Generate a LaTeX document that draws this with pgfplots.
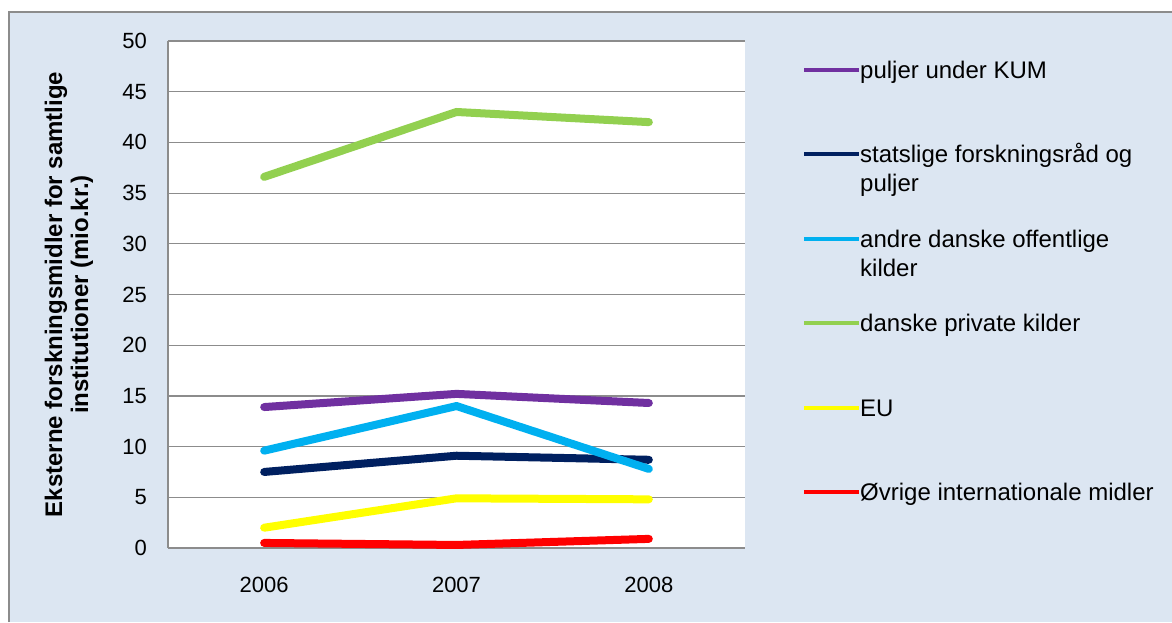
\documentclass[border=0pt]{standalone}
\usepackage{pgfplots}
\pgfplotsset{compat=1.18}
\usepackage{fontspec}
\setmainfont{Liberation Sans}
\definecolor{bgblue}{HTML}{DCE6F2}
\definecolor{framegray}{HTML}{8C8C8C}
\definecolor{gridgray}{HTML}{8C8C8C}
\definecolor{kum}{HTML}{7030A0}
\definecolor{stat}{HTML}{002060}
\definecolor{offentlig}{HTML}{00B0F0}
\definecolor{privat}{HTML}{92D050}
\definecolor{eu}{HTML}{FFFF00}
\definecolor{intl}{HTML}{FF0000}

\begin{document}
\begin{tikzpicture}
\useasboundingbox (0,0) rectangle (586pt,311pt);
\fill[white] (0,0) rectangle (586pt,311pt);
\fill[bgblue] (4.5pt,0) rectangle (586pt,305pt);
\draw[framegray, line width=1pt] (4.5pt,0) -- (4.5pt,305pt) -- (586pt,305pt);
\begin{axis}[
    at={(84pt,37pt)}, anchor=south west,
    scale only axis,
    width=288.5pt, height=253.5pt,
    xmin=-0.5, xmax=2.5,
    ymin=0, ymax=50,
    xtick={0,1,2},
    xticklabels={2006,2007,2008},
    ytick={0,5,...,50},
    ymajorgrids,
    grid style={gridgray, line width=0.6pt},
    axis x line*=bottom,
    axis y line*=left,
    axis line style={gridgray, line width=0.6pt, -},
    tick style={draw=none},
    axis background/.style={fill=white},
    /pgf/number format/assume math mode=true,
    ticklabel style={font=\fontsize{11}{13}\selectfont},
    yticklabel style={xshift=-7pt},
    xticklabel style={yshift=-11pt},
    ylabel={Eksterne forskningsmidler for samtlige\\institutioner (mio.kr.)},
    ylabel style={at={(axis description cs:-0.1716,0.5)}, anchor=center,
        align=center, font=\bfseries\fontsize{12}{13}\selectfont},
    every axis plot/.append style={line width=4pt, line cap=round, line join=round},
    legend cell align=left,
    legend image code/.code={\draw[#1, line width=2pt, line cap=butt] (0pt,16.5pt) -- (27.5pt,16.5pt);},
    legend style={at={(1.0985,0.9626)}, anchor=north west, draw=none, fill=none,
        inner sep=0pt, row sep=0pt, column sep=-0.5pt,
        font=\fontsize{12}{14.5}\selectfont,
        nodes={inner sep=0pt, text height=9pt, text depth=33.25pt}},
]
\addplot[kum] coordinates {(0,13.9) (1,15.2) (2,14.3)};
\addlegendentry{puljer under KUM}
\addplot[stat] coordinates {(0,7.5) (1,9.1) (2,8.7)};
\addlegendentry{\parbox[t]{170pt}{statslige forskningsråd og\\puljer}}
\addplot[offentlig] coordinates {(0,9.6) (1,14.0) (2,7.8)};
\addlegendentry{\parbox[t]{170pt}{andre danske offentlige\\kilder}}
\addplot[privat] coordinates {(0,36.6) (1,43.0) (2,42.0)};
\addlegendentry{danske private kilder}
\addplot[eu] coordinates {(0,2.0) (1,4.9) (2,4.8)};
\addlegendentry{EU}
\addplot[intl] coordinates {(0,0.5) (1,0.3) (2,0.9)};
\addlegendentry{Øvrige internationale midler}
\end{axis}
\end{tikzpicture}
\end{document}
